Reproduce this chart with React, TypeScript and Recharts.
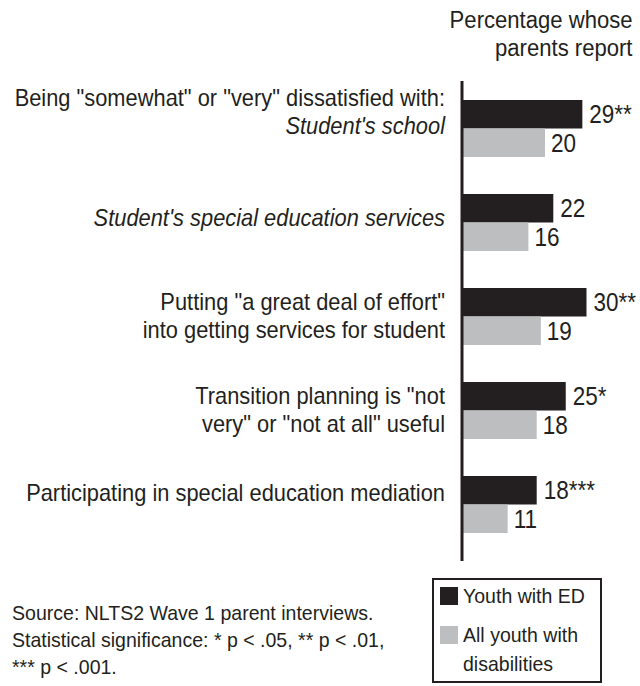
import React from "react";
import { BarChart, Bar, XAxis, YAxis, LabelList } from "recharts";

const FONT = "'Liberation Sans', Arial, Helvetica, sans-serif";
const INK = "#231f20";
const GREY = "#bcbec0";

// category ids and the text lines drawn for each (i = italic)
const categories = ["school", "services", "effort", "transition", "mediation"];
const categoryLines = [
  [
    { t: 'Being "somewhat" or "very" dissatisfied with:' },
    { t: "Student's school", i: true },
  ],
  [{ t: "Student's special education services", i: true }],
  [{ t: 'Putting "a great deal of effort"' }, { t: "into getting services for student" }],
  [{ t: 'Transition planning is "not' }, { t: 'very" or "not at all" useful' }],
  [{ t: "Participating in special education mediation" }],
];
const edValues = [29, 22, 30, 25, 18];
const edMarks = ["**", "", "**", "*", "***"];
const allValues = [20, 16, 19, 18, 11];

const seriesNames = ["Youth with ED", "All youth with disabilities"];

const data = categories.map((c, i) => ({
  category: c,
  ed: edValues[i],
  all: allValues[i],
  edLabel: `${edValues[i]}${edMarks[i]}`,
}));

// small nudges so label blocks sit where the original put them
const labelShift = [-16, -4, 0, 0, -11];

function CategoryTick(props: any) {
  const { x, y, index } = props;
  const lines = categoryLines[index] || [];
  const n = lines.length;
  return (
    <g>
      {lines.map((ln, k) => {
        const ty = y + labelShift[index] + (k - (n - 1) / 2) * 27.5 + 8.2;
        return (
          <text
            key={k}
            transform={`translate(${x - 9},${ty}) scale(0.95,1)`}
            textAnchor="end"
            fill={INK}
            fontSize={23}
            fontFamily={FONT}
            fontStyle={ln.i ? "italic" : "normal"}
          >
            {ln.t}
          </text>
        );
      })}
    </g>
  );
}

function ValueLabel(props: any) {
  const vb = props.viewBox || {};
  const x = (vb.x ?? props.x) + (vb.width ?? props.width) + (props.offset ?? 6);
  const y = (vb.y ?? props.y) + (vb.height ?? props.height) / 2;
  return (
    <text
      transform={`translate(${x},${y}) scale(0.9,1)`}
      dy="0.355em"
      fill={INK}
      fontSize={25}
      fontFamily={FONT}
    >
      {props.value}
    </text>
  );
}

function LegendBox() {
  const sq = (color: string, top: number) => (
    <div style={{ position: "absolute", left: 6, top, width: 18, height: 18, background: color }} />
  );
  const txt = (s: string, top: number) => (
    <div
      style={{
        position: "absolute",
        left: 29,
        top,
        whiteSpace: "nowrap",
        transform: "scaleX(0.93)",
        transformOrigin: "left center",
      }}
    >
      {s}
    </div>
  );
  return (
    <div
      style={{
        position: "absolute",
        left: 432,
        top: 578,
        width: 166,
        height: 101,
        border: `2px solid ${INK}`,
        fontFamily: FONT,
        fontSize: 21,
        lineHeight: "24px",
        color: INK,
        background: "#fff",
      }}
    >
      {sq(INK, 7)}
      {txt(seriesNames[0], 4)}
      {sq(GREY, 46)}
      {txt("All youth with", 43)}
      {txt("disabilities", 72)}
    </div>
  );
}

export default function App() {
  return (
    <div style={{ position: "absolute", left: 0, top: 0, width: 640, height: 686, background: "#fff" }}>
      <div
        style={{
          position: "absolute",
          right: 7,
          top: 6,
          textAlign: "right",
          fontFamily: FONT,
          fontSize: 23,
          lineHeight: "28px",
          color: INK,
          transform: "scaleX(0.96)",
          transformOrigin: "right center",
          whiteSpace: "nowrap",
        }}
      >
        Percentage whose
        <br />
        parents report
      </div>
      <BarChart
        width={640}
        height={686}
        data={data}
        layout="vertical"
        margin={{ top: 81, right: 12, bottom: 125, left: 0 }}
        barGap={0}
        barSize={28.5}
      >
        <XAxis type="number" domain={[0, 40]} hide />
        <YAxis
          type="category"
          dataKey="category"
          width={462}
          padding={{ top: 0, bottom: 10 }}
          axisLine={{ stroke: INK, strokeWidth: 3 }}
          tickLine={false}
          tick={<CategoryTick />}
          interval={0}
        />
        <Bar dataKey="ed" name={seriesNames[0]} fill={INK} isAnimationActive={false}>
          <LabelList dataKey="edLabel" offset={7} content={<ValueLabel />} />
        </Bar>
        <Bar dataKey="all" name={seriesNames[1]} fill={GREY} isAnimationActive={false}>
          <LabelList dataKey="all" offset={6} content={<ValueLabel />} />
        </Bar>
      </BarChart>
      <LegendBox />
      <div
        style={{
          position: "absolute",
          left: 12,
          top: 599,
          fontFamily: FONT,
          fontSize: 21,
          lineHeight: "27px",
          color: INK,
          transform: "scaleX(0.93)",
          transformOrigin: "left center",
          whiteSpace: "nowrap",
        }}
      >
        Source: NLTS2 Wave 1 parent interviews.
        <br />
        Statistical significance: * p &lt; .05, ** p &lt; .01,
        <br />
        *** p &lt; .001.
      </div>
    </div>
  );
}
